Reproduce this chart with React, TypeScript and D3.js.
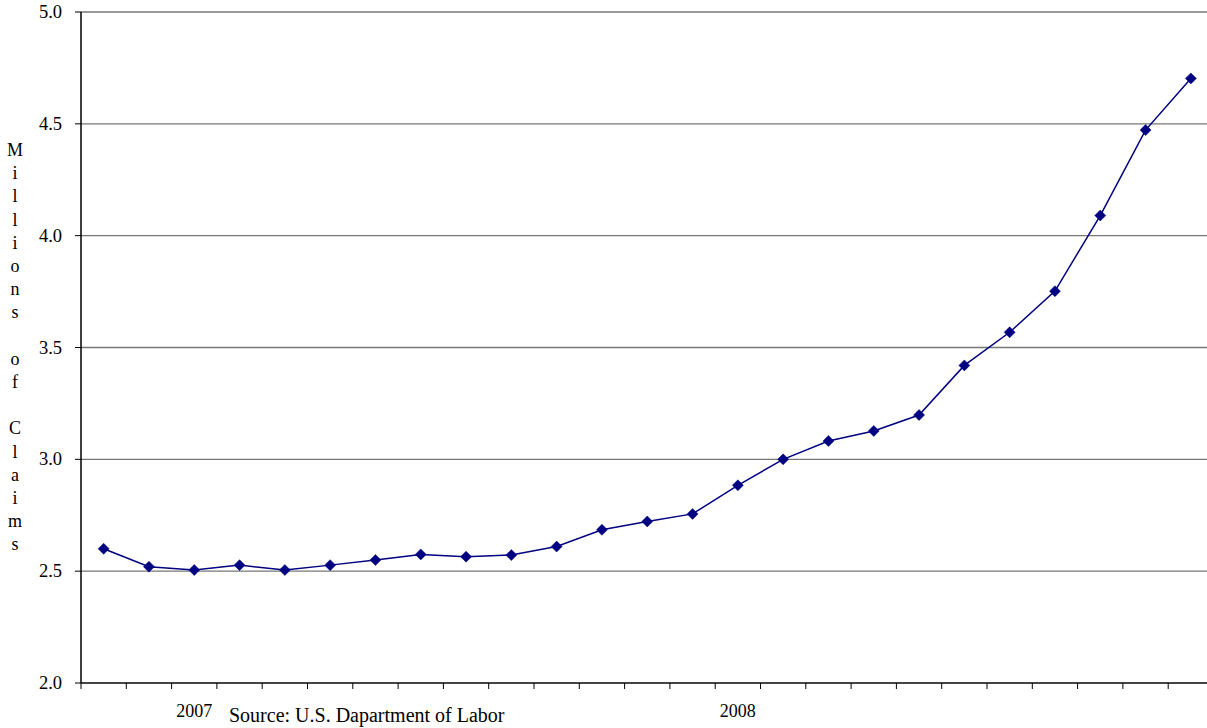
import React from "react";
import * as d3 from "d3";

const periods = Array.from({ length: 25 }, (_, i) => `P${i + 1}`);
const claims = [
  2.6, 2.52, 2.505, 2.527, 2.505, 2.527, 2.55, 2.575, 2.565, 2.572, 2.61, 2.685,
  2.722, 2.756, 2.884, 3.0, 3.082, 3.127, 3.198, 3.42, 3.568, 3.752, 4.09, 4.472, 4.703,
];
const yTicks = [2.0, 2.5, 3.0, 3.5, 4.0, 4.5, 5.0];
const yearLabels = [
  { index: 2, label: "2007" },
  { index: 14, label: "2008" },
];
const titleLetters = "Millions of Claims".split("");
const sourceText = "Source: U.S. Dapartment of Labor";

export default function App() {
  const W = 1207;
  const H = 728;
  const left = 81;
  const bandW = 45.3;
  const right = left + bandW * periods.length;
  const top = 12;
  const bottom = 683;

  const x = d3.scaleBand<string>().domain(periods).range([left, right]).paddingInner(0).paddingOuter(0);
  const y = d3.scaleLinear().domain([2, 5]).range([bottom, top]);

  const line = d3
    .line<number>()
    .x((_, i) => (x(periods[i]) as number) + x.bandwidth() / 2)
    .y((d) => y(d));

  const font = "'Liberation Serif', 'Times New Roman', serif";
  const boundaries = periods.map((p) => x(p) as number).concat([right]);

  return (
    <svg
      width={W}
      height={H}
      style={{ position: "absolute", left: 0, top: 0, background: "#fff" }}
      fontFamily={font}
    >
      {/* gridlines */}
      {yTicks.filter((t) => t > 2).map((t) => (
        <line key={t} x1={left} x2={W} y1={y(t)} y2={y(t)} stroke="#777" strokeWidth={1.3} />
      ))}
      {/* y ticks and labels */}
      {yTicks.map((t) => (
        <g key={"yt" + t}>
          <line x1={left - 6} x2={left} y1={y(t)} y2={y(t)} stroke="#000" strokeWidth={1} />
          <text x={62} y={y(t) + 6} textAnchor="end" fontSize={18.5} fill="#000">
            {t.toFixed(1)}
          </text>
        </g>
      ))}
      {/* x axis */}
      <line x1={left} x2={W} y1={bottom} y2={bottom} stroke="#444" strokeWidth={2} />
      {boundaries.map((b, i) => (
        <line key={"xt" + i} x1={b} x2={b} y1={bottom} y2={bottom + 6} stroke="#000" strokeWidth={1} />
      ))}
      {/* y axis */}
      <line x1={left} x2={left} y1={top} y2={bottom} stroke="#000" strokeWidth={1.5} />
      {/* year labels */}
      {yearLabels.map((yl) => (
        <text
          key={yl.label}
          x={(x(periods[yl.index]) as number) + x.bandwidth() / 2}
          y={717}
          textAnchor="middle"
          fontSize={18}
          fill="#000"
        >
          {yl.label}
        </text>
      ))}
      <text x={229} y={722} fontSize={20} fill="#000">
        {sourceText}
      </text>
      {/* y title stacked letters */}
      {titleLetters.map((c, i) => (
        <text key={"tl" + i} x={15} y={156 + i * 23.2} textAnchor="middle" fontSize={18} fill="#000">
          {c === " " ? "" : c}
        </text>
      ))}
      {/* line */}
      <path d={line(claims) || ""} fill="none" stroke="#000080" strokeWidth={1.5} />
      {claims.map((v, i) => {
        const cx = (x(periods[i]) as number) + x.bandwidth() / 2;
        const cy = y(v);
        const s = 5.5;
        return (
          <path
            key={"m" + i}
            d={`M${cx},${cy - s}L${cx + s},${cy}L${cx},${cy + s}L${cx - s},${cy}Z`}
            fill="#000080"
            stroke="#000080"
            strokeWidth={0.5}
          />
        );
      })}
    </svg>
  );
}
